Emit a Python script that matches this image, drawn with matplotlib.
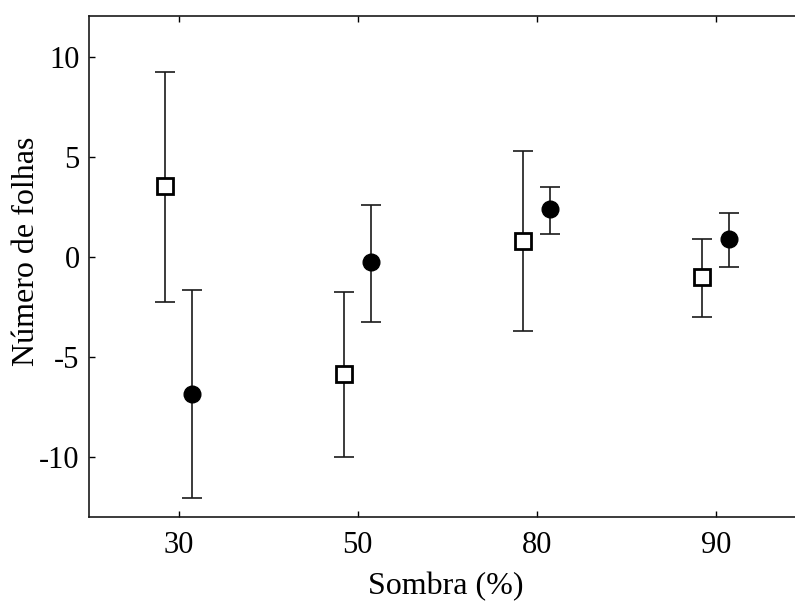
import matplotlib
matplotlib.use("Agg")
import matplotlib.pyplot as plt
import numpy as np

plt.rcParams['font.family'] = ['Liberation Serif', 'DejaVu Serif']
plt.rcParams['axes.unicode_minus'] = False

categories = ['30', '50', '80', '90']

# open squares
sq_mean = [3.53, -5.83, 0.80, -1.00]
sq_low = [-2.27, -10.00, -3.72, -3.03]
sq_high = [9.25, -1.77, 5.30, 0.87]

# filled circles
ci_mean = [-6.83, -0.25, 2.37, 0.88]
ci_low = [-12.07, -3.28, 1.12, -0.50]
ci_high = [-1.67, 2.60, 3.50, 2.20]

fig = plt.figure(figsize=(7.95, 6.03), dpi=100)
ax = fig.add_axes([89.3 / 795, 86 / 603, 716 / 795, 501.3 / 603])

pos = np.arange(len(categories))
dx_sq, dx_ci = -0.078, 0.073

sq_mean_a = np.array(sq_mean)
ci_mean_a = np.array(ci_mean)
sq_err = [sq_mean_a - np.array(sq_low), np.array(sq_high) - sq_mean_a]
ci_err = [ci_mean_a - np.array(ci_low), np.array(ci_high) - ci_mean_a]

line_col = '#1a1a1a'
bar_kw = dict(fmt='none', ecolor=line_col, elinewidth=1.2, capsize=7,
              capthick=1.2, zorder=2)
ax.errorbar(pos + dx_sq, sq_mean, yerr=sq_err, **bar_kw)
ax.errorbar(pos + dx_ci, ci_mean, yerr=ci_err, **bar_kw)
ax.plot(pos + dx_sq, sq_mean, 's', mfc='white', mec='black', mew=2.0,
        ms=11, zorder=3)
ax.plot(pos + dx_ci, ci_mean, 'o', mfc='black', mec='black', ms=12,
        zorder=3)

ax.set_xlim(-0.5, 3.5)
ax.set_ylim(-13.0, 12.05)
ax.set_xticks(pos)
ax.set_xticklabels(categories)
ax.set_yticks([-10, -5, 0, 5, 10])
ax.tick_params(direction='in', length=4, width=1.0, top=True, right=True,
               labelsize=22, colors='black')
ax.tick_params(axis='y', pad=7)
ax.tick_params(axis='x', pad=10)
for s in ax.spines.values():
    s.set_linewidth(1.2)
    s.set_color('#1a1a1a')

ax.set_xlabel('Sombra (%)', fontsize=23)
ax.xaxis.label.set_va('center')
ax.xaxis.set_label_coords(0.498, -0.138)
ax.set_ylabel('Número de folhas', fontsize=23)
ax.yaxis.label.set_va('center')
ax.yaxis.set_label_coords(-0.088, 0.53)

fig.savefig('out.png', dpi=100)
